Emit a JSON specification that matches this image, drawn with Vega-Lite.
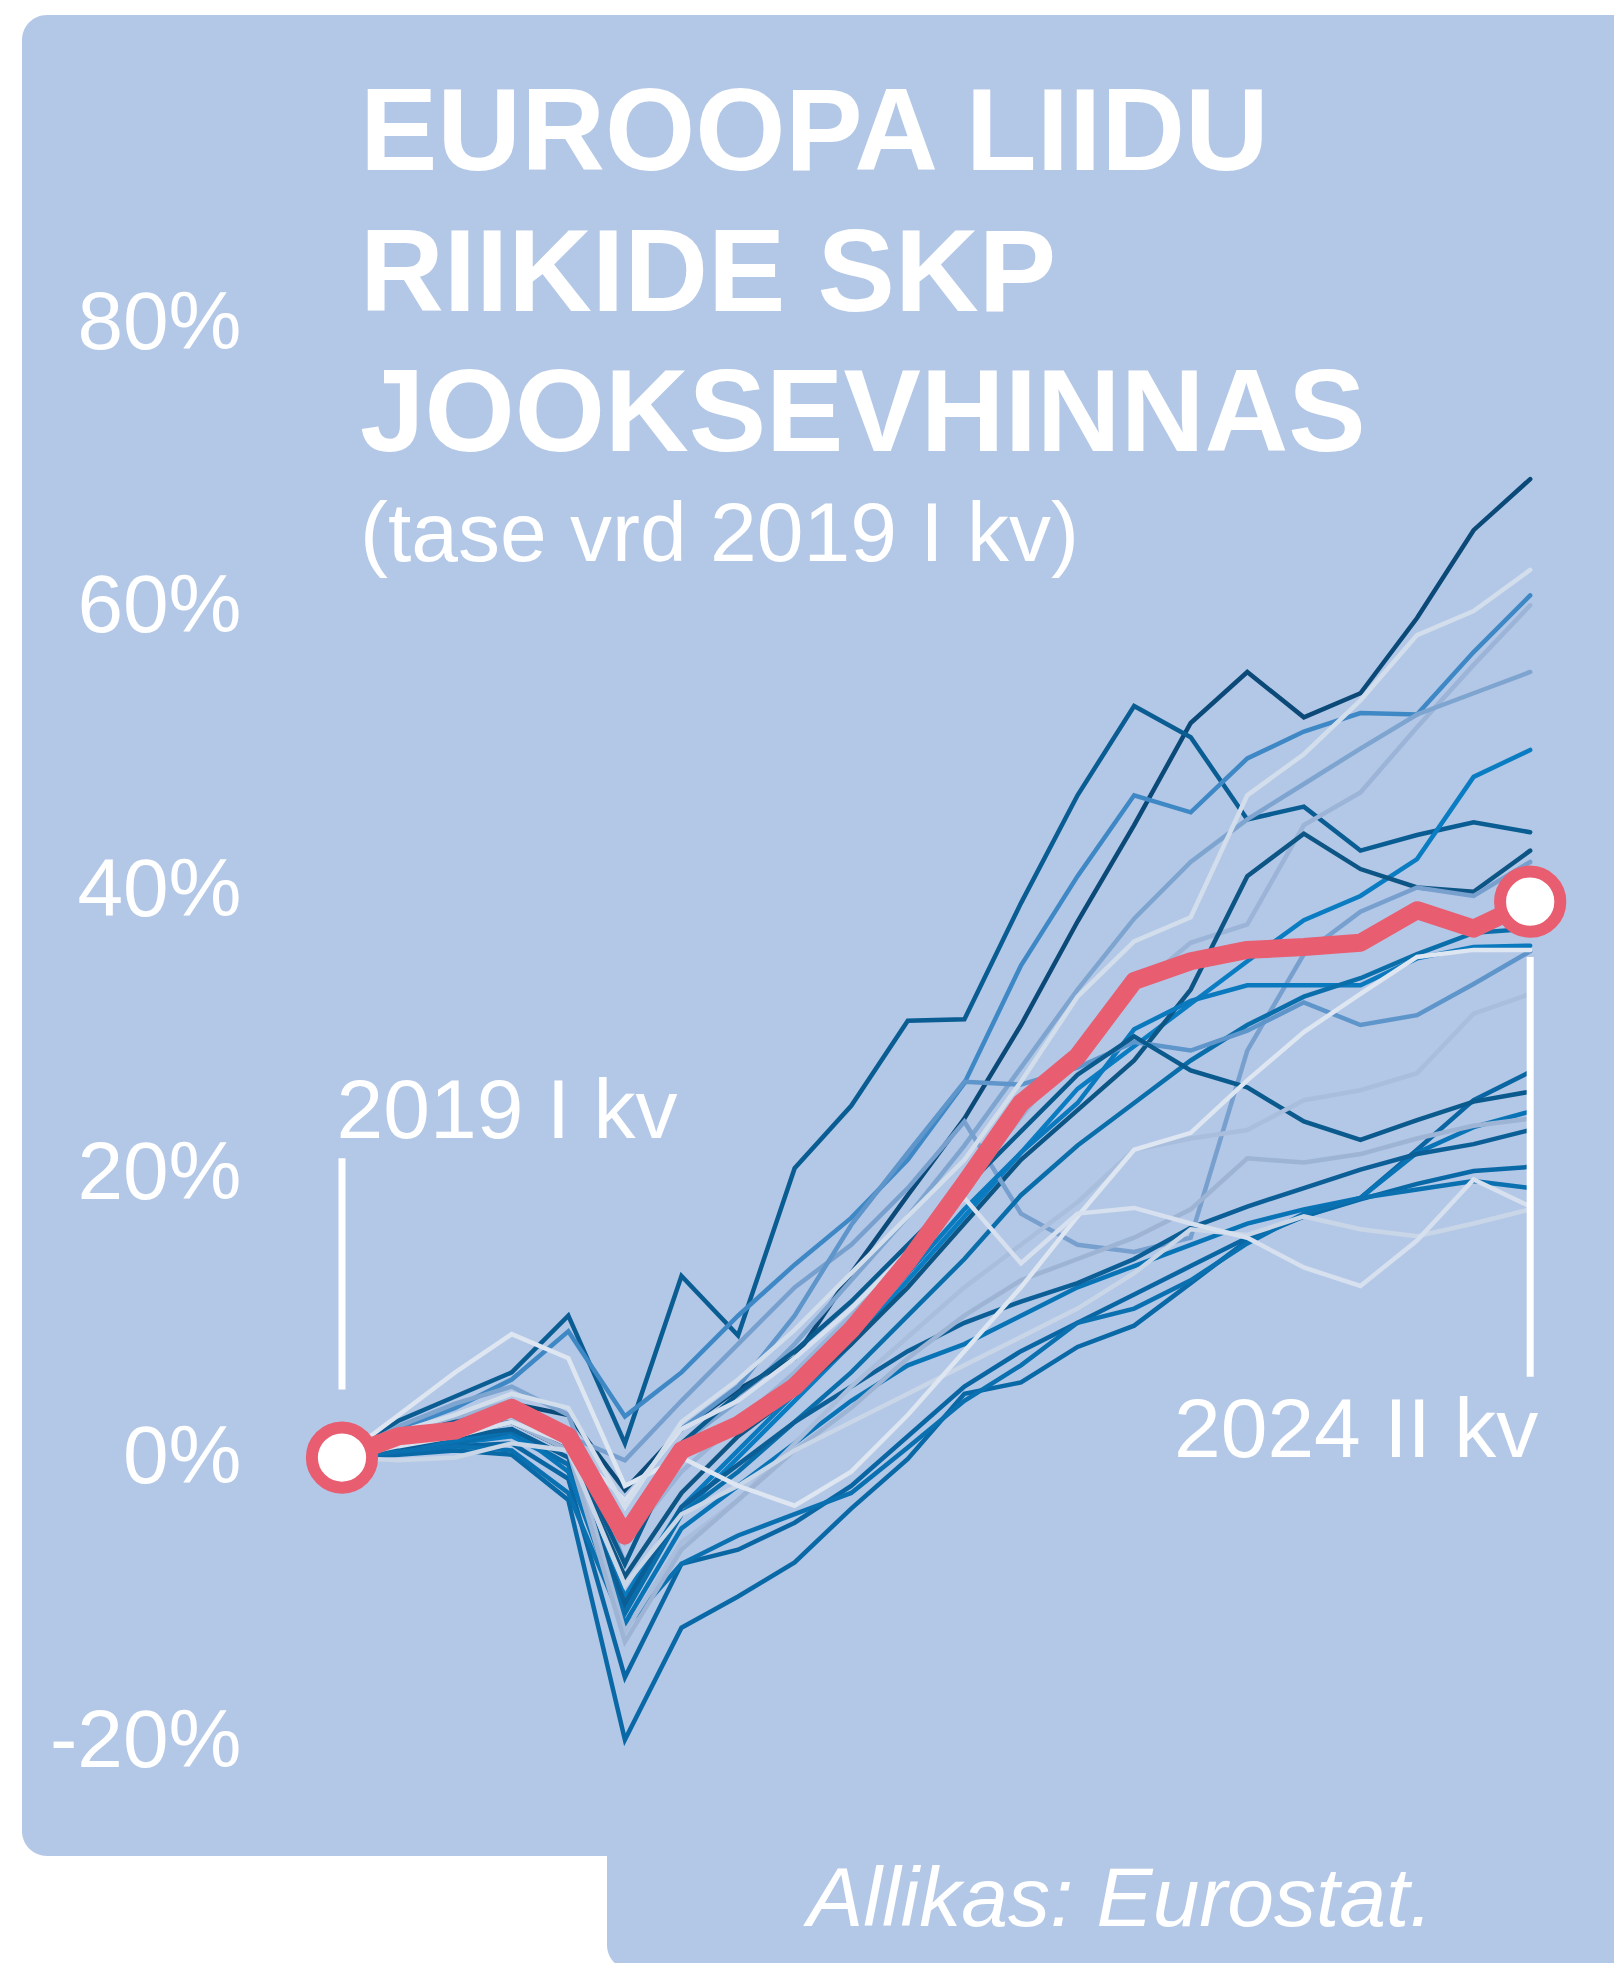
{
  "$schema": "https://vega.github.io/schema/vega-lite/v6.json",
  "width": 1353,
  "height": 1963,
  "autosize": {"type": "none"},
  "padding": {"left": 261, "top": 0, "right": 0, "bottom": 0},
  "background": "#ffffff",
  "config": {"view": {"stroke": null, "fill": null}, "font": "Liberation Sans"},
  "title": {
    "text": ["EUROOPA LIIDU", "RIIKIDE SKP", "JOOKSEVHINNAS"],
    "subtitle": "(tase vrd 2019 I kv)",
    "anchor": "start",
    "frame": "group",
    "orient": "top",
    "offset": 0,
    "dx": 99,
    "dy": 578.5,
    "font": "Liberation Sans",
    "fontSize": 116,
    "fontWeight": "bold",
    "color": "#ffffff",
    "lineHeight": 140.5,
    "subtitleFont": "Liberation Sans",
    "subtitleFontSize": 84,
    "subtitleFontWeight": "normal",
    "subtitleColor": "#ffffff",
    "subtitlePadding": 19.5
  },
  "datasets": {
    "gdp": [
      {"country":"Ungari","q":0,"pct":0},{"country":"Ungari","q":1,"pct":1.2},{"country":"Ungari","q":2,"pct":2.5},{"country":"Ungari","q":3,"pct":3.8},{"country":"Ungari","q":4,"pct":3.0},{"country":"Ungari","q":5,"pct":-2.3},{"country":"Ungari","q":6,"pct":2.0},{"country":"Ungari","q":7,"pct":4.8},{"country":"Ungari","q":8,"pct":7.0},{"country":"Ungari","q":9,"pct":13.0},{"country":"Ungari","q":10,"pct":18.5},{"country":"Ungari","q":11,"pct":23.9},{"country":"Ungari","q":12,"pct":30.5},{"country":"Ungari","q":13,"pct":37.8},{"country":"Ungari","q":14,"pct":44.6},{"country":"Ungari","q":15,"pct":51.8},{"country":"Ungari","q":16,"pct":55.4},{"country":"Ungari","q":17,"pct":52.2},{"country":"Ungari","q":18,"pct":53.9},{"country":"Ungari","q":19,"pct":59.2},{"country":"Ungari","q":20,"pct":65.4},{"country":"Ungari","q":21,"pct":69.0},
      {"country":"Iirimaa","q":0,"pct":0},{"country":"Iirimaa","q":1,"pct":2.6},{"country":"Iirimaa","q":2,"pct":4.3},{"country":"Iirimaa","q":3,"pct":6.0},{"country":"Iirimaa","q":4,"pct":10.0},{"country":"Iirimaa","q":5,"pct":1.0},{"country":"Iirimaa","q":6,"pct":12.8},{"country":"Iirimaa","q":7,"pct":8.6},{"country":"Iirimaa","q":8,"pct":20.4},{"country":"Iirimaa","q":9,"pct":24.8},{"country":"Iirimaa","q":10,"pct":30.8},{"country":"Iirimaa","q":11,"pct":30.9},{"country":"Iirimaa","q":12,"pct":39.1},{"country":"Iirimaa","q":13,"pct":46.7},{"country":"Iirimaa","q":14,"pct":53.0},{"country":"Iirimaa","q":15,"pct":50.8},{"country":"Iirimaa","q":16,"pct":45.0},{"country":"Iirimaa","q":17,"pct":45.9},{"country":"Iirimaa","q":18,"pct":42.8},{"country":"Iirimaa","q":19,"pct":43.9},{"country":"Iirimaa","q":20,"pct":44.8},{"country":"Iirimaa","q":21,"pct":44.1},
      {"country":"Poola","q":0,"pct":0},{"country":"Poola","q":1,"pct":2.0},{"country":"Poola","q":2,"pct":3.5},{"country":"Poola","q":3,"pct":5.5},{"country":"Poola","q":4,"pct":8.9},{"country":"Poola","q":5,"pct":2.9},{"country":"Poola","q":6,"pct":6.0},{"country":"Poola","q":7,"pct":10.0},{"country":"Poola","q":8,"pct":13.6},{"country":"Poola","q":9,"pct":16.9},{"country":"Poola","q":10,"pct":21.0},{"country":"Poola","q":11,"pct":26.4},{"country":"Poola","q":12,"pct":34.7},{"country":"Poola","q":13,"pct":41.0},{"country":"Poola","q":14,"pct":46.7},{"country":"Poola","q":15,"pct":45.5},{"country":"Poola","q":16,"pct":49.3},{"country":"Poola","q":17,"pct":51.2},{"country":"Poola","q":18,"pct":52.5},{"country":"Poola","q":19,"pct":52.4},{"country":"Poola","q":20,"pct":56.8},{"country":"Poola","q":21,"pct":60.8},
      {"country":"Rumeenia","q":0,"pct":0},{"country":"Rumeenia","q":1,"pct":1.5},{"country":"Rumeenia","q":2,"pct":2.8},{"country":"Rumeenia","q":3,"pct":4.0},{"country":"Rumeenia","q":4,"pct":2.0},{"country":"Rumeenia","q":5,"pct":-6.0},{"country":"Rumeenia","q":6,"pct":-1.0},{"country":"Rumeenia","q":7,"pct":2.5},{"country":"Rumeenia","q":8,"pct":6.0},{"country":"Rumeenia","q":9,"pct":10.0},{"country":"Rumeenia","q":10,"pct":14.5},{"country":"Rumeenia","q":11,"pct":19.0},{"country":"Rumeenia","q":12,"pct":24.0},{"country":"Rumeenia","q":13,"pct":29.0},{"country":"Rumeenia","q":14,"pct":33.0},{"country":"Rumeenia","q":15,"pct":36.3},{"country":"Rumeenia","q":16,"pct":37.6},{"country":"Rumeenia","q":17,"pct":44.6},{"country":"Rumeenia","q":18,"pct":46.9},{"country":"Rumeenia","q":19,"pct":51.5},{"country":"Rumeenia","q":20,"pct":55.9},{"country":"Rumeenia","q":21,"pct":60.1},
      {"country":"Horvaatia","q":0,"pct":0},{"country":"Horvaatia","q":1,"pct":2.2},{"country":"Horvaatia","q":2,"pct":3.8},{"country":"Horvaatia","q":3,"pct":5.0},{"country":"Horvaatia","q":4,"pct":3.0},{"country":"Horvaatia","q":5,"pct":-7.5},{"country":"Horvaatia","q":6,"pct":1.0},{"country":"Horvaatia","q":7,"pct":4.0},{"country":"Horvaatia","q":8,"pct":8.0},{"country":"Horvaatia","q":9,"pct":12.5},{"country":"Horvaatia","q":10,"pct":17.0},{"country":"Horvaatia","q":11,"pct":22.0},{"country":"Horvaatia","q":12,"pct":27.5},{"country":"Horvaatia","q":13,"pct":33.0},{"country":"Horvaatia","q":14,"pct":38.0},{"country":"Horvaatia","q":15,"pct":42.0},{"country":"Horvaatia","q":16,"pct":45.0},{"country":"Horvaatia","q":17,"pct":47.5},{"country":"Horvaatia","q":18,"pct":50.0},{"country":"Horvaatia","q":19,"pct":52.4},{"country":"Horvaatia","q":20,"pct":53.9},{"country":"Horvaatia","q":21,"pct":55.4},
      {"country":"Leedu","q":0,"pct":0},{"country":"Leedu","q":1,"pct":0.8},{"country":"Leedu","q":2,"pct":1.5},{"country":"Leedu","q":3,"pct":2.5},{"country":"Leedu","q":4,"pct":0.5},{"country":"Leedu","q":5,"pct":-10.8},{"country":"Leedu","q":6,"pct":-4.0},{"country":"Leedu","q":7,"pct":0.0},{"country":"Leedu","q":8,"pct":4.0},{"country":"Leedu","q":9,"pct":8.0},{"country":"Leedu","q":10,"pct":12.5},{"country":"Leedu","q":11,"pct":17.0},{"country":"Leedu","q":12,"pct":21.5},{"country":"Leedu","q":13,"pct":26.0},{"country":"Leedu","q":14,"pct":29.0},{"country":"Leedu","q":15,"pct":32.0},{"country":"Leedu","q":16,"pct":35.0},{"country":"Leedu","q":17,"pct":37.9},{"country":"Leedu","q":18,"pct":39.6},{"country":"Leedu","q":19,"pct":42.2},{"country":"Leedu","q":20,"pct":48.0},{"country":"Leedu","q":21,"pct":49.9},
      {"country":"Läti","q":0,"pct":0},{"country":"Läti","q":1,"pct":1.0},{"country":"Läti","q":2,"pct":2.0},{"country":"Läti","q":3,"pct":2.5},{"country":"Läti","q":4,"pct":0.5},{"country":"Läti","q":5,"pct":-8.4},{"country":"Läti","q":6,"pct":-2.5},{"country":"Läti","q":7,"pct":1.5},{"country":"Läti","q":8,"pct":4.5},{"country":"Läti","q":9,"pct":8.0},{"country":"Läti","q":10,"pct":12.0},{"country":"Läti","q":11,"pct":16.5},{"country":"Läti","q":12,"pct":21.0},{"country":"Läti","q":13,"pct":24.5},{"country":"Läti","q":14,"pct":28.0},{"country":"Läti","q":15,"pct":33.0},{"country":"Läti","q":16,"pct":41.0},{"country":"Läti","q":17,"pct":44.0},{"country":"Läti","q":18,"pct":41.5},{"country":"Läti","q":19,"pct":40.2},{"country":"Läti","q":20,"pct":39.9},{"country":"Läti","q":21,"pct":42.8},
      {"country":"Malta","q":0,"pct":0},{"country":"Malta","q":1,"pct":1.2},{"country":"Malta","q":2,"pct":2.2},{"country":"Malta","q":3,"pct":3.2},{"country":"Malta","q":4,"pct":1.5},{"country":"Malta","q":5,"pct":-0.2},{"country":"Malta","q":6,"pct":4.0},{"country":"Malta","q":7,"pct":8.0},{"country":"Malta","q":8,"pct":12.0},{"country":"Malta","q":9,"pct":15.0},{"country":"Malta","q":10,"pct":19.0},{"country":"Malta","q":11,"pct":23.7},{"country":"Malta","q":12,"pct":17.2},{"country":"Malta","q":13,"pct":15.0},{"country":"Malta","q":14,"pct":14.5},{"country":"Malta","q":15,"pct":15.5},{"country":"Malta","q":16,"pct":28.7},{"country":"Malta","q":17,"pct":35.5},{"country":"Malta","q":18,"pct":38.5},{"country":"Malta","q":19,"pct":40.2},{"country":"Malta","q":20,"pct":39.6},{"country":"Malta","q":21,"pct":42.0},
      {"country":"Küpros","q":0,"pct":0},{"country":"Küpros","q":1,"pct":0.5},{"country":"Küpros","q":2,"pct":1.0},{"country":"Küpros","q":3,"pct":1.5},{"country":"Küpros","q":4,"pct":-0.5},{"country":"Küpros","q":5,"pct":-9.8},{"country":"Küpros","q":6,"pct":-3.5},{"country":"Küpros","q":7,"pct":0.5},{"country":"Küpros","q":8,"pct":4.5},{"country":"Küpros","q":9,"pct":8.5},{"country":"Küpros","q":10,"pct":13.0},{"country":"Küpros","q":11,"pct":17.5},{"country":"Küpros","q":12,"pct":21.5},{"country":"Küpros","q":13,"pct":25.0},{"country":"Küpros","q":14,"pct":30.2},{"country":"Küpros","q":15,"pct":32.2},{"country":"Küpros","q":16,"pct":33.3},{"country":"Küpros","q":17,"pct":33.3},{"country":"Küpros","q":18,"pct":33.3},{"country":"Küpros","q":19,"pct":35.2},{"country":"Küpros","q":20,"pct":36.0},{"country":"Küpros","q":21,"pct":36.1},
      {"country":"Kreeka","q":0,"pct":0},{"country":"Kreeka","q":1,"pct":0.5},{"country":"Kreeka","q":2,"pct":1.0},{"country":"Kreeka","q":3,"pct":1.8},{"country":"Kreeka","q":4,"pct":-0.5},{"country":"Kreeka","q":5,"pct":-11.0},{"country":"Kreeka","q":6,"pct":-4.0},{"country":"Kreeka","q":7,"pct":-1.0},{"country":"Kreeka","q":8,"pct":2.5},{"country":"Kreeka","q":9,"pct":6.0},{"country":"Kreeka","q":10,"pct":10.0},{"country":"Kreeka","q":11,"pct":14.0},{"country":"Kreeka","q":12,"pct":18.5},{"country":"Kreeka","q":13,"pct":22.0},{"country":"Kreeka","q":14,"pct":25.0},{"country":"Kreeka","q":15,"pct":28.0},{"country":"Kreeka","q":16,"pct":30.5},{"country":"Kreeka","q":17,"pct":32.5},{"country":"Kreeka","q":18,"pct":33.8},{"country":"Kreeka","q":19,"pct":35.5},{"country":"Kreeka","q":20,"pct":37.0},{"country":"Kreeka","q":21,"pct":37.3},
      {"country":"Tšehhi","q":0,"pct":0},{"country":"Tšehhi","q":1,"pct":1.5},{"country":"Tšehhi","q":2,"pct":2.5},{"country":"Tšehhi","q":3,"pct":3.5},{"country":"Tšehhi","q":4,"pct":1.0},{"country":"Tšehhi","q":5,"pct":-3.0},{"country":"Tšehhi","q":6,"pct":2.0},{"country":"Tšehhi","q":7,"pct":5.0},{"country":"Tšehhi","q":8,"pct":10.0},{"country":"Tšehhi","q":9,"pct":16.4},{"country":"Tšehhi","q":10,"pct":21.5},{"country":"Tšehhi","q":11,"pct":26.5},{"country":"Tšehhi","q":12,"pct":26.3},{"country":"Tšehhi","q":13,"pct":27.5},{"country":"Tšehhi","q":14,"pct":29.3},{"country":"Tšehhi","q":15,"pct":28.7},{"country":"Tšehhi","q":16,"pct":30.1},{"country":"Tšehhi","q":17,"pct":32.1},{"country":"Tšehhi","q":18,"pct":30.5},{"country":"Tšehhi","q":19,"pct":31.2},{"country":"Tšehhi","q":20,"pct":33.4},{"country":"Tšehhi","q":21,"pct":35.7},
      {"country":"Portugal","q":0,"pct":0},{"country":"Portugal","q":1,"pct":0.3},{"country":"Portugal","q":2,"pct":0.8},{"country":"Portugal","q":3,"pct":1.0},{"country":"Portugal","q":4,"pct":-1.5},{"country":"Portugal","q":5,"pct":-15.5},{"country":"Portugal","q":6,"pct":-7.5},{"country":"Portugal","q":7,"pct":-6.5},{"country":"Portugal","q":8,"pct":-4.6},{"country":"Portugal","q":9,"pct":-2.0},{"country":"Portugal","q":10,"pct":1.5},{"country":"Portugal","q":11,"pct":5.0},{"country":"Portugal","q":12,"pct":7.5},{"country":"Portugal","q":13,"pct":9.5},{"country":"Portugal","q":14,"pct":11.5},{"country":"Portugal","q":15,"pct":13.5},{"country":"Portugal","q":16,"pct":15.5},{"country":"Portugal","q":17,"pct":17.0},{"country":"Portugal","q":18,"pct":18.3},{"country":"Portugal","q":19,"pct":21.7},{"country":"Portugal","q":20,"pct":25.2},{"country":"Portugal","q":21,"pct":27.2},
      {"country":"Luksemburg","q":0,"pct":0},{"country":"Luksemburg","q":1,"pct":1.5},{"country":"Luksemburg","q":2,"pct":2.5},{"country":"Luksemburg","q":3,"pct":3.0},{"country":"Luksemburg","q":4,"pct":1.0},{"country":"Luksemburg","q":5,"pct":-7.5},{"country":"Luksemburg","q":6,"pct":1.0},{"country":"Luksemburg","q":7,"pct":4.5},{"country":"Luksemburg","q":8,"pct":7.5},{"country":"Luksemburg","q":9,"pct":11.0},{"country":"Luksemburg","q":10,"pct":15.0},{"country":"Luksemburg","q":11,"pct":19.0},{"country":"Luksemburg","q":12,"pct":23.0},{"country":"Luksemburg","q":13,"pct":27.0},{"country":"Luksemburg","q":14,"pct":29.7},{"country":"Luksemburg","q":15,"pct":27.3},{"country":"Luksemburg","q":16,"pct":26.1},{"country":"Luksemburg","q":17,"pct":23.7},{"country":"Luksemburg","q":18,"pct":22.4},{"country":"Luksemburg","q":19,"pct":23.8},{"country":"Luksemburg","q":20,"pct":25.1},{"country":"Luksemburg","q":21,"pct":25.8},
      {"country":"Belgia","q":0,"pct":0},{"country":"Belgia","q":1,"pct":0.5},{"country":"Belgia","q":2,"pct":1.2},{"country":"Belgia","q":3,"pct":2.0},{"country":"Belgia","q":4,"pct":-1.0},{"country":"Belgia","q":5,"pct":-11.7},{"country":"Belgia","q":6,"pct":-5.0},{"country":"Belgia","q":7,"pct":-2.0},{"country":"Belgia","q":8,"pct":1.0},{"country":"Belgia","q":9,"pct":4.0},{"country":"Belgia","q":10,"pct":6.5},{"country":"Belgia","q":11,"pct":8.0},{"country":"Belgia","q":12,"pct":10.0},{"country":"Belgia","q":13,"pct":12.0},{"country":"Belgia","q":14,"pct":13.5},{"country":"Belgia","q":15,"pct":15.0},{"country":"Belgia","q":16,"pct":16.5},{"country":"Belgia","q":17,"pct":17.5},{"country":"Belgia","q":18,"pct":18.3},{"country":"Belgia","q":19,"pct":21.5},{"country":"Belgia","q":20,"pct":23.3},{"country":"Belgia","q":21,"pct":24.4},
      {"country":"Austria","q":0,"pct":0},{"country":"Austria","q":1,"pct":0.6},{"country":"Austria","q":2,"pct":1.5},{"country":"Austria","q":3,"pct":2.0},{"country":"Austria","q":4,"pct":0.0},{"country":"Austria","q":5,"pct":-10.3},{"country":"Austria","q":6,"pct":-3.5},{"country":"Austria","q":7,"pct":-0.5},{"country":"Austria","q":8,"pct":2.5},{"country":"Austria","q":9,"pct":5.0},{"country":"Austria","q":10,"pct":7.5},{"country":"Austria","q":11,"pct":9.5},{"country":"Austria","q":12,"pct":11.0},{"country":"Austria","q":13,"pct":12.3},{"country":"Austria","q":14,"pct":14.0},{"country":"Austria","q":15,"pct":16.2},{"country":"Austria","q":16,"pct":17.7},{"country":"Austria","q":17,"pct":19.0},{"country":"Austria","q":18,"pct":20.3},{"country":"Austria","q":19,"pct":21.4},{"country":"Austria","q":20,"pct":22.1},{"country":"Austria","q":21,"pct":23.1},
      {"country":"Hispaania","q":0,"pct":0},{"country":"Hispaania","q":1,"pct":0.2},{"country":"Hispaania","q":2,"pct":0.5},{"country":"Hispaania","q":3,"pct":0.2},{"country":"Hispaania","q":4,"pct":-3.0},{"country":"Hispaania","q":5,"pct":-19.9},{"country":"Hispaania","q":6,"pct":-12.0},{"country":"Hispaania","q":7,"pct":-9.8},{"country":"Hispaania","q":8,"pct":-7.4},{"country":"Hispaania","q":9,"pct":-3.6},{"country":"Hispaania","q":10,"pct":-0.1},{"country":"Hispaania","q":11,"pct":4.5},{"country":"Hispaania","q":12,"pct":5.3},{"country":"Hispaania","q":13,"pct":7.8},{"country":"Hispaania","q":14,"pct":9.3},{"country":"Hispaania","q":15,"pct":12.3},{"country":"Hispaania","q":16,"pct":15.3},{"country":"Hispaania","q":17,"pct":17.0},{"country":"Hispaania","q":18,"pct":18.2},{"country":"Hispaania","q":19,"pct":19.3},{"country":"Hispaania","q":20,"pct":20.2},{"country":"Hispaania","q":21,"pct":20.5},
      {"country":"Prantsusmaa","q":0,"pct":0},{"country":"Prantsusmaa","q":1,"pct":0.4},{"country":"Prantsusmaa","q":2,"pct":0.8},{"country":"Prantsusmaa","q":3,"pct":0.5},{"country":"Prantsusmaa","q":4,"pct":-2.5},{"country":"Prantsusmaa","q":5,"pct":-12.0},{"country":"Prantsusmaa","q":6,"pct":-7.5},{"country":"Prantsusmaa","q":7,"pct":-5.5},{"country":"Prantsusmaa","q":8,"pct":-4.0},{"country":"Prantsusmaa","q":9,"pct":-2.5},{"country":"Prantsusmaa","q":10,"pct":0.7},{"country":"Prantsusmaa","q":11,"pct":4.0},{"country":"Prantsusmaa","q":12,"pct":6.5},{"country":"Prantsusmaa","q":13,"pct":9.5},{"country":"Prantsusmaa","q":14,"pct":10.5},{"country":"Prantsusmaa","q":15,"pct":12.5},{"country":"Prantsusmaa","q":16,"pct":15.1},{"country":"Prantsusmaa","q":17,"pct":17.2},{"country":"Prantsusmaa","q":18,"pct":18.3},{"country":"Prantsusmaa","q":19,"pct":18.9},{"country":"Prantsusmaa","q":20,"pct":19.5},{"country":"Prantsusmaa","q":21,"pct":19.0},
      {"country":"Holland","q":0,"pct":0},{"country":"Holland","q":1,"pct":1.0},{"country":"Holland","q":2,"pct":2.0},{"country":"Holland","q":3,"pct":3.0},{"country":"Holland","q":4,"pct":1.5},{"country":"Holland","q":5,"pct":-12.3},{"country":"Holland","q":6,"pct":-6.0},{"country":"Holland","q":7,"pct":-3.0},{"country":"Holland","q":8,"pct":1.0},{"country":"Holland","q":9,"pct":5.0},{"country":"Holland","q":10,"pct":8.5},{"country":"Holland","q":11,"pct":12.0},{"country":"Holland","q":12,"pct":15.0},{"country":"Holland","q":13,"pct":18.0},{"country":"Holland","q":14,"pct":21.7},{"country":"Holland","q":15,"pct":22.5},{"country":"Holland","q":16,"pct":23.1},{"country":"Holland","q":17,"pct":25.2},{"country":"Holland","q":18,"pct":25.9},{"country":"Holland","q":19,"pct":27.1},{"country":"Holland","q":20,"pct":31.3},{"country":"Holland","q":21,"pct":32.7},
      {"country":"Slovakkia","q":0,"pct":0},{"country":"Slovakkia","q":1,"pct":1.0},{"country":"Slovakkia","q":2,"pct":1.8},{"country":"Slovakkia","q":3,"pct":2.5},{"country":"Slovakkia","q":4,"pct":0.5},{"country":"Slovakkia","q":5,"pct":-13.0},{"country":"Slovakkia","q":6,"pct":-6.5},{"country":"Slovakkia","q":7,"pct":-3.0},{"country":"Slovakkia","q":8,"pct":0.5},{"country":"Slovakkia","q":9,"pct":3.5},{"country":"Slovakkia","q":10,"pct":7.0},{"country":"Slovakkia","q":11,"pct":10.0},{"country":"Slovakkia","q":12,"pct":12.5},{"country":"Slovakkia","q":13,"pct":14.0},{"country":"Slovakkia","q":14,"pct":15.5},{"country":"Slovakkia","q":15,"pct":17.5},{"country":"Slovakkia","q":16,"pct":21.1},{"country":"Slovakkia","q":17,"pct":20.8},{"country":"Slovakkia","q":18,"pct":21.4},{"country":"Slovakkia","q":19,"pct":22.5},{"country":"Slovakkia","q":20,"pct":23.4},{"country":"Slovakkia","q":21,"pct":23.9},
      {"country":"Soome","q":0,"pct":0},{"country":"Soome","q":1,"pct":-0.2},{"country":"Soome","q":2,"pct":0.0},{"country":"Soome","q":3,"pct":1.0},{"country":"Soome","q":4,"pct":0.5},{"country":"Soome","q":5,"pct":-9.0},{"country":"Soome","q":6,"pct":-4.0},{"country":"Soome","q":7,"pct":-2.0},{"country":"Soome","q":8,"pct":0.5},{"country":"Soome","q":9,"pct":2.5},{"country":"Soome","q":10,"pct":4.5},{"country":"Soome","q":11,"pct":6.5},{"country":"Soome","q":12,"pct":8.5},{"country":"Soome","q":13,"pct":10.5},{"country":"Soome","q":14,"pct":13.0},{"country":"Soome","q":15,"pct":16.1},{"country":"Soome","q":16,"pct":15.7},{"country":"Soome","q":17,"pct":17.0},{"country":"Soome","q":18,"pct":16.1},{"country":"Soome","q":19,"pct":15.6},{"country":"Soome","q":20,"pct":16.5},{"country":"Soome","q":21,"pct":17.5},
      {"country":"Sloveenia","q":0,"pct":0},{"country":"Sloveenia","q":1,"pct":3.0},{"country":"Sloveenia","q":2,"pct":6.0},{"country":"Sloveenia","q":3,"pct":8.7},{"country":"Sloveenia","q":4,"pct":7.0},{"country":"Sloveenia","q":5,"pct":-2.0},{"country":"Sloveenia","q":6,"pct":0.0},{"country":"Sloveenia","q":7,"pct":-2.0},{"country":"Sloveenia","q":8,"pct":-3.4},{"country":"Sloveenia","q":9,"pct":-1.0},{"country":"Sloveenia","q":10,"pct":3.0},{"country":"Sloveenia","q":11,"pct":7.5},{"country":"Sloveenia","q":12,"pct":12.0},{"country":"Sloveenia","q":13,"pct":17.0},{"country":"Sloveenia","q":14,"pct":21.7},{"country":"Sloveenia","q":15,"pct":22.9},{"country":"Sloveenia","q":16,"pct":26.6},{"country":"Sloveenia","q":17,"pct":30.0},{"country":"Sloveenia","q":18,"pct":32.7},{"country":"Sloveenia","q":19,"pct":35.3},{"country":"Sloveenia","q":20,"pct":35.8},{"country":"Sloveenia","q":21,"pct":35.8},
      {"country":"Rootsi","q":0,"pct":0},{"country":"Rootsi","q":1,"pct":0.8},{"country":"Rootsi","q":2,"pct":1.5},{"country":"Rootsi","q":3,"pct":2.5},{"country":"Rootsi","q":4,"pct":1.0},{"country":"Rootsi","q":5,"pct":-3.0},{"country":"Rootsi","q":6,"pct":2.0},{"country":"Rootsi","q":7,"pct":4.0},{"country":"Rootsi","q":8,"pct":7.0},{"country":"Rootsi","q":9,"pct":10.5},{"country":"Rootsi","q":10,"pct":14.5},{"country":"Rootsi","q":11,"pct":18.3},{"country":"Rootsi","q":12,"pct":13.7},{"country":"Rootsi","q":13,"pct":17.2},{"country":"Rootsi","q":14,"pct":17.6},{"country":"Rootsi","q":15,"pct":16.5},{"country":"Rootsi","q":16,"pct":15.5},{"country":"Rootsi","q":17,"pct":13.4},{"country":"Rootsi","q":18,"pct":12.1},{"country":"Rootsi","q":19,"pct":15.3},{"country":"Rootsi","q":20,"pct":19.6},{"country":"Rootsi","q":21,"pct":17.7},
      {"country":"Bulgaaria","q":0,"pct":0},{"country":"Bulgaaria","q":1,"pct":1.8},{"country":"Bulgaaria","q":2,"pct":3.0},{"country":"Bulgaaria","q":3,"pct":4.5},{"country":"Bulgaaria","q":4,"pct":3.5},{"country":"Bulgaaria","q":5,"pct":-3.5},{"country":"Bulgaaria","q":6,"pct":2.5},{"country":"Bulgaaria","q":7,"pct":5.5},{"country":"Bulgaaria","q":8,"pct":9.0},{"country":"Bulgaaria","q":9,"pct":13.0},{"country":"Bulgaaria","q":10,"pct":17.0},{"country":"Bulgaaria","q":11,"pct":21.0},{"country":"Bulgaaria","q":12,"pct":26.5},{"country":"Bulgaaria","q":13,"pct":32.5},{"country":"Bulgaaria","q":14,"pct":36.4},{"country":"Bulgaaria","q":15,"pct":38.1},{"country":"Bulgaaria","q":16,"pct":46.7},{"country":"Bulgaaria","q":17,"pct":49.6},{"country":"Bulgaaria","q":18,"pct":53.4},{"country":"Bulgaaria","q":19,"pct":58.0},{"country":"Bulgaaria","q":20,"pct":59.7},{"country":"Bulgaaria","q":21,"pct":62.6},
      {"country":"Eesti","q":0,"pct":0},{"country":"Eesti","q":1,"pct":1.5},{"country":"Eesti","q":2,"pct":1.9},{"country":"Eesti","q":3,"pct":3.5},{"country":"Eesti","q":4,"pct":1.5},{"country":"Eesti","q":5,"pct":-5.5},{"country":"Eesti","q":6,"pct":0.5},{"country":"Eesti","q":7,"pct":2.3},{"country":"Eesti","q":8,"pct":5.0},{"country":"Eesti","q":9,"pct":9.0},{"country":"Eesti","q":10,"pct":13.8},{"country":"Eesti","q":11,"pct":19.3},{"country":"Eesti","q":12,"pct":25.0},{"country":"Eesti","q":13,"pct":28.3},{"country":"Eesti","q":14,"pct":33.6},{"country":"Eesti","q":15,"pct":35.0},{"country":"Eesti","q":16,"pct":35.8},{"country":"Eesti","q":17,"pct":36.0},{"country":"Eesti","q":18,"pct":36.3},{"country":"Eesti","q":19,"pct":38.6},{"country":"Eesti","q":20,"pct":37.3},{"country":"Eesti","q":21,"pct":39.2}
    ]
  },
  "layer": [
    {
      "data": {"values": [{}]},
      "mark": {"type": "rect", "cornerRadius": 25, "color": "#b3c7e6"},
      "encoding": {
        "x": {"datum": -5.656, "type": "quantitative", "axis": null},
        "x2": {"datum": 23},
        "y": {"datum": 101.73, "type": "quantitative"},
        "y2": {"datum": -28.1}
      }
    },
    {
      "data": {"values": [{}]},
      "mark": {"type": "rect", "cornerRadius": 25, "color": "#b3c7e6"},
      "encoding": {
        "x": {"datum": 4.684, "type": "quantitative", "axis": null},
        "x2": {"datum": 23},
        "y": {"datum": -20, "type": "quantitative"},
        "y2": {"datum": -36.14}
      }
    },
    {
      "data": {"name": "gdp"},
      "transform": [{"filter": "datum.country !== 'Eesti'"}],
      "mark": {"type": "line", "strokeWidth": 4.5, "strokeCap": "round", "strokeJoin": "miter"},
      "encoding": {
        "x": {"field": "q", "type": "quantitative", "scale": {"domain": [-1.4316, 22.4814], "nice": false, "zero": false}, "axis": null},
        "y": {
          "field": "pct", "type": "quantitative",
          "scale": {"domain": [-35.65, 102.79], "nice": false, "zero": false},
          "axis": {
            "values": [-20, 0, 20, 40, 60, 80],
            "labelExpr": "datum.value + '%'",
            "labelFont": "Liberation Sans",
            "labelFontSize": 82,
            "labelColor": "#ffffff",
            "labelLimit": 500,
            "ticks": false,
            "tickSize": 0,
            "domain": false,
            "grid": false,
            "title": null,
            "labelPadding": 20,
            "labelFlush": false,
            "labelOverlap": false,
            "labelBound": false,
            "zindex": 2
          }
        },
        "color": {
          "field": "country", "type": "nominal", "legend": null,
          "scale": {
            "domain": ["Ungari","Iirimaa","Poola","Rumeenia","Horvaatia","Leedu","Läti","Malta","Küpros","Kreeka","Tšehhi","Portugal","Luksemburg","Belgia","Austria","Hispaania","Prantsusmaa","Holland","Slovakkia","Soome","Sloveenia","Rootsi","Bulgaaria"],
            "range": ["#0b4a78","#0a5d92","#3f88c6","#9bb4d7","#7ea4d0","#0a7cc2","#0d5585","#78a0cf","#0b79be","#0a6eab","#5e95ca","#0a66a3","#0a5a8e","#0873b5","#0b5f96","#0968a6","#0a70b0","#a9bedd","#9db4d4","#c9d6e8","#dde6f1","#d6e0ee","#d3deec"]
          }
        },
        "order": {"field": "q", "type": "quantitative"}
      }
    },
    {
      "data": {"name": "gdp"},
      "transform": [{"filter": "datum.country === 'Eesti'"}],
      "mark": {"type": "line", "strokeWidth": 18, "color": "#e85d70", "strokeCap": "round", "strokeJoin": "round"},
      "encoding": {
        "x": {"field": "q", "type": "quantitative", "axis": null},
        "y": {"field": "pct", "type": "quantitative"}
      }
    },
    {
      "data": {"values": [{}]},
      "mark": {"type": "rule", "color": "#ffffff", "strokeWidth": 7},
      "encoding": {
        "x": {"datum": 0, "type": "quantitative", "axis": null},
        "y": {"datum": 21.1, "type": "quantitative"},
        "y2": {"datum": 4.8}
      }
    },
    {
      "data": {"values": [{}]},
      "mark": {"type": "rule", "color": "#ffffff", "strokeWidth": 7},
      "encoding": {
        "x": {"datum": 21, "type": "quantitative", "axis": null},
        "y": {"datum": 35.3, "type": "quantitative"},
        "y2": {"datum": 5.7}
      }
    },
    {
      "data": {"name": "gdp"},
      "transform": [{"filter": "datum.country === 'Eesti' && (datum.q === 0 || datum.q === 21)"}],
      "mark": {"type": "point", "shape": "circle", "filled": true, "fill": "#ffffff", "stroke": "#e85d70", "strokeWidth": 12, "size": 3630, "opacity": 1},
      "encoding": {
        "x": {"field": "q", "type": "quantitative", "axis": null},
        "y": {"field": "pct", "type": "quantitative"}
      }
    },
    {
      "data": {"values": [{}]},
      "mark": {"type": "text", "align": "left", "baseline": "alphabetic", "dx": -5.5, "font": "Liberation Sans", "fontSize": 84, "color": "#ffffff"},
      "encoding": {
        "x": {"datum": 0, "type": "quantitative", "axis": null},
        "y": {"datum": 22.5, "type": "quantitative"},
        "text": {"value": "2019 I kv"}
      }
    },
    {
      "data": {"values": [{}]},
      "mark": {"type": "text", "align": "right", "baseline": "alphabetic", "dx": 8, "dy": -1, "font": "Liberation Sans", "fontSize": 84, "color": "#ffffff"},
      "encoding": {
        "x": {"datum": 21, "type": "quantitative", "axis": null},
        "y": {"datum": 0, "type": "quantitative"},
        "text": {"value": "2024 II kv"}
      }
    },
    {
      "data": {"values": [{}]},
      "mark": {"type": "text", "align": "center", "baseline": "alphabetic", "font": "Liberation Sans", "fontSize": 84, "fontStyle": "italic", "color": "#ffffff"},
      "encoding": {
        "x": {"datum": 13.75, "type": "quantitative", "axis": null},
        "y": {"datum": -33.02, "type": "quantitative"},
        "text": {"value": "Allikas: Eurostat."}
      }
    }
  ]
}
